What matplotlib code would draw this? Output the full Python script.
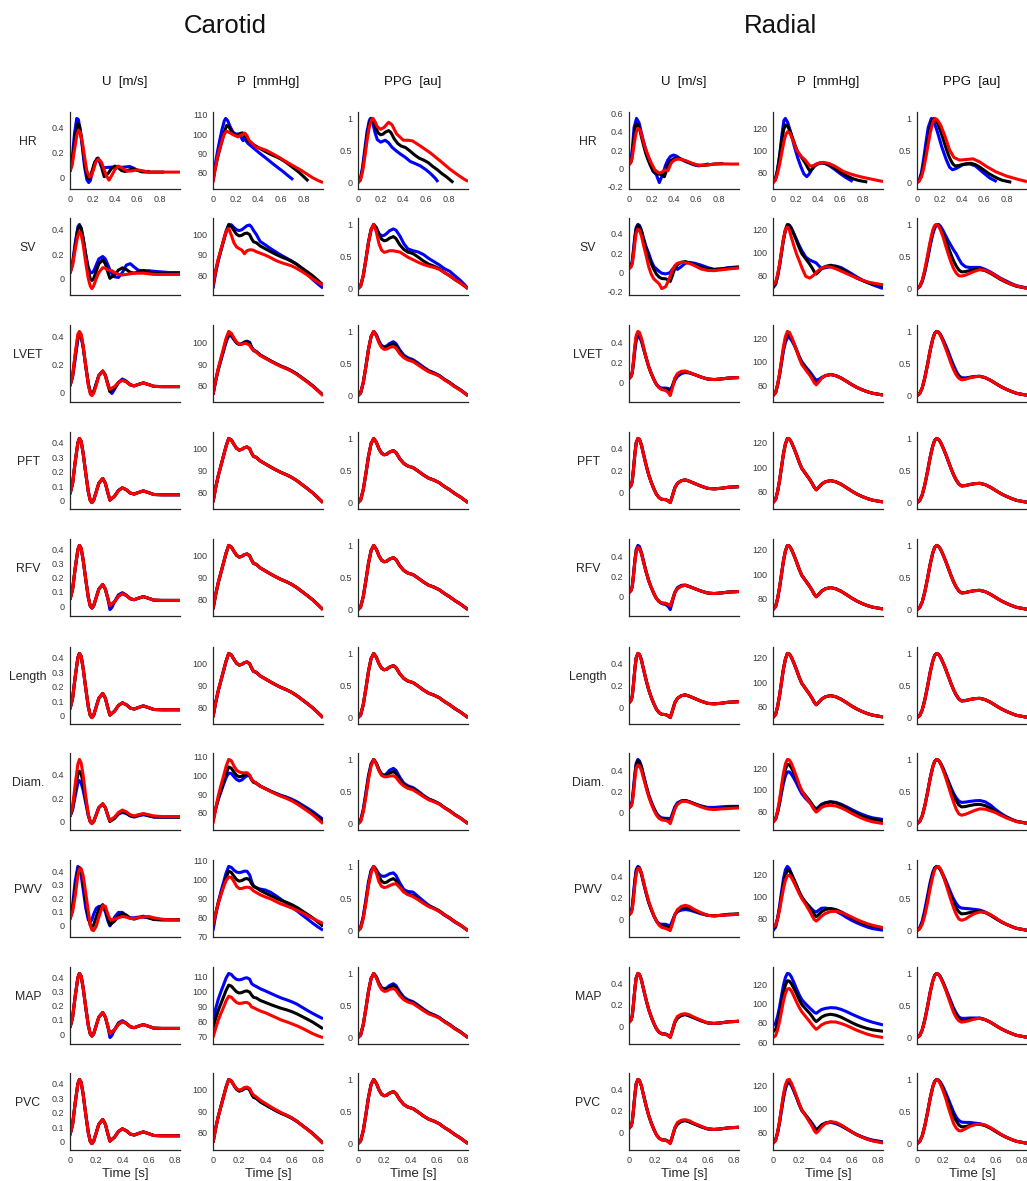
import matplotlib
matplotlib.use('Agg')
import matplotlib.pyplot as plt
from matplotlib.ticker import MultipleLocator, FuncFormatter

plt.rcParams['font.family'] = ['Liberation Sans', 'DejaVu Sans']

# ---------------- labels ----------------
sites = ['Carotid', 'Radial']
col_titles = ['U  [m/s]', 'P  [mmHg]', 'PPG  [au]']
rows = ['HR', 'SV', 'LVET', 'PFT', 'RFV', 'Length', 'Diam.', 'PWV', 'MAP', 'PVC']
x_ticks = [0, 0.2, 0.4, 0.6, 0.8]

# ---------------- carotid U ----------------
t_cu = [0, .02, .04, .06, .072, .085, .10, .12, .14, .155, .167, .18, .20, .22, .25, .27, .29, .305, .32, .34,
        .37, .40, .43, .46, .49, .52, .56, .60, .64, .70, .76, .84]
cu_base = [.045, .12, .27, .40, .43, .41, .33, .19, .06, .0, -.014, .0, .06, .12, .153, .12, .05, .003, .015, .03,
           .07, .088, .075, .052, .045, .055, .067, .055, .042, .04, .04, .04]
cu_sv_blue = [.045, .13, .29, .42, .44, .41, .33, .2, .09, .05, .048, .06, .11, .16, .18, .16, .11, .07, .04, .015,
              .01, .05, .11, .122, .095, .07, .062, .065, .06, .055, .05, .05]
cu_sv_red = [.045, .11, .24, .35, .38, .36, .28, .13, .0, -.06, -.08, -.06, .0, .05, .09, .085, .07, .068, .065, .05,
             .035, .03, .035, .04, .045, .045, .045, .04, .035, .035, .035, .035]
cu_lvet_blue = [.045, .11, .24, .38, .41, .40, .33, .19, .06, .0, -.014, .0, .06, .12, .153, .125, .06, .01, -.01, .02,
                .07, .095, .08, .055, .045, .055, .067, .055, .042, .04, .04, .04]
cu_lvet_red = [.045, .12, .28, .42, .44, .42, .34, .19, .05, -.015, -.025, -.01, .05, .12, .153, .12, .05, .02, .03, .04,
               .07, .085, .075, .052, .045, .055, .067, .055, .042, .04, .04, .04]
cu_rfv_blue = [.045, .12, .27, .40, .43, .41, .33, .19, .06, .0, -.014, .0, .06, .12, .153, .12, .05, -.025, -.01, .03,
               .08, .095, .078, .052, .045, .055, .067, .055, .042, .04, .04, .04]
cu_diam_blue = [.045, .1, .22, .33, .35, .33, .27, .16, .05, .0, -.01, .0, .06, .12, .15, .12, .05, .005, .015, .03,
                .065, .08, .07, .05, .04, .05, .06, .05, .04, .04, .04, .04]
cu_diam_red = [.045, .13, .32, .49, .53, .50, .40, .22, .06, .0, -.015, .0, .06, .12, .153, .12, .05, .01, .025, .04,
               .08, .1, .085, .06, .05, .06, .07, .06, .05, .045, .045, .045]
cu_pwv_blue = [.045, .15, .33, .437, .42, .37, .27, .13, .04, .025, .04, .08, .125, .14, .14, .1, .03, -.005, .02, .06,
               .095, .095, .07, .055, .055, .06, .06, .055, .045, .04, .04, .04]
cu_pwv_red = [.045, .1, .22, .37, .42, .42, .37, .24, .1, .0, -.035, -.04, -.01, .06, .145, .14, .08, .045, .04, .045,
              .055, .065, .06, .05, .05, .055, .062, .065, .055, .045, .04, .04]
cu_hr_blue_t = [0, .02, .04, .06, .075, .09, .11, .13, .15, .166, .18, .20, .22, .24, .26, .28, .30, .34, .38, .42,
                .46, .50, .53, .56, .60, .65, .71]
cu_hr_blue = [.045, .15, .35, .47, .46, .38, .24, .08, -.02, -.044, -.03, .04, .11, .15, .13, .085, .075, .078, .08, .08,
              .078, .082, .085, .075, .055, .045, .045]
cu_hr_red_t = [0, .02, .04, .06, .075, .09, .11, .13, .15, .175, .19, .21, .23, .254, .28, .30, .32, .347, .37, .40,
               .43, .47, .51, .55, .60, .65, .70, .80, .90, .98]
cu_hr_red = [.045, .1, .22, .33, .375, .36, .28, .16, .05, .0, .01, .06, .12, .145, .12, .07, .02, -.025, .01, .06,
             .088, .07, .047, .05, .058, .05, .04, .04, .04, .04]

# ---------------- carotid P ----------------
t_cp = [0, .02, .04, .06, .08, .10, .12, .14, .16, .18, .20, .22, .24, .26, .28, .295, .31, .33, .36, .40,
        .44, .48, .52, .56, .60, .64, .68, .72, .76, .80, .84]
cp_base = [75.5, 82, 87.5, 92, 96.5, 101, 104.5, 103.8, 101.8, 100, 99.2, 99.5, 100.3, 100.6, 99.8, 97.8, 96.3, 95.9,
           94.3, 92.9, 91.5, 90.2, 89, 88, 86.8, 85.3, 83.5, 81.7, 79.8, 77.6, 75.3]
cp_sv_blue = [73.5, 81, 87, 92, 97, 101.5, 104.8, 104.6, 103.3, 102.2, 101.8, 102.2, 103.2, 104.2, 104.5, 103.5, 101.8,
              100, 96.5, 94.8, 93, 91.4, 89.8, 88.4, 87, 85.4, 83.2, 80.6, 78, 75.8, 73.7]
cp_sv_red = [75, 82, 88, 92.5, 97, 101.5, 102.8, 99.5, 95.8, 93.8, 93, 92.3, 90.5, 92, 92.4, 92.4, 92.2, 91.5, 90.8,
             89.8, 88.6, 87.2, 86.2, 85.4, 84.6, 83.3, 81.8, 80.1, 78.3, 76.7, 75.2]
cp_lvet_blue = [75.5, 82, 87.3, 91.7, 96, 100.3, 103.4, 103.2, 101.5, 100, 99.3, 99.6, 100.3, 100.8, 100.3, 98, 96.8,
                95.9, 94.3, 92.9, 91.5, 90.2, 89, 88, 86.8, 85.3, 83.5, 81.7, 79.8, 77.6, 75.3]
cp_lvet_red = [75.5, 82.3, 88, 92.7, 97.5, 102.2, 105.4, 104.5, 102.3, 100.4, 99.3, 99.3, 99.8, 99.6, 98.8, 97.4, 96.5,
               95.6, 94, 92.7, 91.3, 90, 88.8, 87.8, 86.6, 85.1, 83.3, 81.5, 79.6, 77.4, 75.1]
cp_diam_blue = [76.5, 82, 87, 91, 95, 98.8, 101.2, 101, 99.3, 97.8, 97, 97.5, 98.8, 99.8, 99.7, 97.5, 96.3, 95.7, 94.2,
                92.9, 91.6, 90.4, 89.3, 88.4, 87.3, 85.9, 84.2, 82.5, 80.7, 78.6, 76.5]
cp_diam_red = [74.2, 82, 89, 94.5, 99.5, 104.8, 108.5, 107.8, 105, 102.8, 101.8, 101.4, 101.3, 101.4, 100.2, 97.8, 96.8,
               95.9, 94.3, 92.8, 91.4, 90, 88.8, 87.7, 86.4, 84.8, 82.9, 81, 79, 76.6, 74.2]
cp_pwv_blue = [73, 81, 88, 93.5, 98.5, 103.5, 107, 106.5, 105, 104, 103.7, 104, 104.5, 104.4, 102.5, 99, 96.6, 95.6, 95,
               94.5, 93.3, 91.5, 89.5, 87.5, 85.5, 83.5, 81.3, 79.2, 77, 75, 73.2]
cp_pwv_red = [76, 82, 87.5, 92, 96, 99.5, 101.4, 101.2, 99, 96.5, 95.3, 95.3, 95.8, 96, 95.8, 95, 94, 93.2, 92, 90.8,
              89.8, 88.4, 87.1, 86.1, 85, 83.7, 82.5, 81, 79.5, 78.1, 76.8]
cp_map_blue = [81.5, 88.5, 95, 100, 104.5, 109.2, 112.3, 111.6, 109.6, 108.3, 108, 108.3, 109.1, 109.4, 108.4, 105.5,
               104.5, 103.6, 102.1, 100.6, 99, 97.4, 95.9, 94.7, 93.4, 91.8, 89.7, 87.6, 85.6, 83.8, 82.0]
cp_map_red = [69.5, 75.5, 81, 85.5, 89.5, 94, 97, 96.4, 94.5, 92.8, 92.2, 92.4, 92.8, 92.9, 91.8, 89.8, 89.4, 88.5,
              87.2, 86, 84.4, 82.8, 81.2, 80, 78.7, 77.3, 75.7, 73.9, 72.1, 70.6, 69.4]
cp_pvc_red = [75.5, 82, 87.5, 92, 96.5, 101, 104.5, 103.8, 101.8, 100.2, 99.6, 100, 100.8, 101, 100.3, 98.5, 97.3, 96.5,
              95, 93.5, 92, 90.6, 89.3, 88.2, 87, 85.4, 83.5, 81.6, 79.6, 77.4, 75.1]
cp_hr_blue_t = [0, .02, .04, .06, .08, .10, .112, .13, .15, .176, .20, .235, .255, .265, .275, .29, .31, .35, .41, .47,
                .53, .58, .62, .66, .706]
cp_hr_blue = [76, 84, 91, 97, 102.5, 107, 108.2, 107, 104, 101, 100, 100, 97.5, 96.5, 98.5, 96.5, 95, 93, 90, 87.2,
              84.3, 82, 80.2, 78.2, 76]
cp_hr_red_t = [0, .02, .04, .06, .08, .10, .118, .14, .176, .22, .25, .28, .30, .32, .35, .38, .42, .47, .53, .59,
               .65, .71, .765, .82, .88, .93, .97]
cp_hr_red = [74.5, 82, 88, 92.5, 96.5, 100, 101.5, 101, 99.7, 98.5, 99.5, 100.5, 99, 96.5, 94.8, 93.1, 92.5, 91.4, 89.5,
             87.5, 85.3, 83.2, 81.4, 79.3, 77, 75.5, 74.5]

# ---------------- carotid PPG ----------------
t_cg = [0, .02, .04, .06, .08, .10, .12, .14, .16, .18, .20, .22, .24, .27, .29, .32, .35, .38, .42, .46,
        .50, .54, .58, .62, .66, .70, .74, .78, .81, .84]
cg_base = [0, .04, .2, .45, .72, .92, 1.0, .94, .84, .77, .745, .755, .785, .81, .78, .68, .61, .57, .545, .49,
           .43, .38, .35, .31, .25, .2, .14, .09, .045, 0]
cg_sv_blue = [0, .04, .2, .45, .72, .92, 1.0, .95, .86, .82, .83, .86, .9, .93, .91, .82, .7, .62, .59, .57,
              .53, .47, .42, .37, .31, .27, .2, .13, .07, 0]
cg_sv_red = [0, .04, .2, .45, .72, .92, 1.0, .88, .7, .6, .565, .575, .59, .59, .58, .57, .53, .49, .45, .41,
             .375, .35, .33, .3, .25, .2, .14, .09, .045, 0]
cg_lvet_blue = [0, .04, .2, .45, .72, .92, 1.0, .95, .85, .78, .76, .775, .81, .84, .81, .71, .63, .59, .56, .505,
                .445, .39, .355, .315, .255, .205, .145, .095, .047, 0]
cg_lvet_red = [0, .04, .2, .45, .72, .92, 1.0, .93, .82, .75, .72, .725, .75, .765, .74, .65, .59, .555, .53, .475,
               .42, .37, .34, .305, .245, .195, .135, .088, .044, 0]
cg_diam_blue = [0, .05, .22, .48, .75, .93, 1.0, .94, .84, .77, .755, .78, .83, .86, .83, .72, .63, .59, .56, .505,
                .44, .385, .35, .31, .25, .2, .14, .09, .045, 0]
cg_diam_red = [0, .03, .18, .42, .69, .9, 1.0, .93, .82, .75, .73, .73, .74, .745, .72, .64, .585, .55, .525, .475,
               .42, .37, .34, .305, .245, .195, .135, .088, .044, 0]
cg_pwv_blue = [0, .05, .22, .48, .76, .94, 1.0, .95, .88, .85, .845, .86, .885, .9, .86, .74, .64, .61, .6, .53,
               .46, .395, .35, .3, .24, .19, .13, .085, .042, 0]
cg_pwv_red = [0, .035, .19, .43, .7, .9, 1.0, .9, .76, .69, .67, .68, .7, .725, .73, .67, .6, .56, .53, .48,
              .425, .375, .34, .3, .245, .195, .135, .088, .044, 0]
cg_hr_blue_t = [0, .02, .04, .06, .08, .10, .11, .13, .15, .17, .20, .24, .27, .30, .34, .37, .42, .46, .50, .55,
                .60, .64, .68, .706]
cg_hr_blue = [0, .05, .24, .52, .8, .97, 1.0, .93, .78, .67, .63, .66, .62, .55, .49, .45, .39, .33, .3, .26,
              .2, .14, .07, .01]
cg_hr_red_t = [0, .02, .04, .06, .08, .10, .12, .132, .15, .17, .20, .23, .27, .30, .34, .40, .44, .48, .55, .64,
               .73, .81, .88, .93, .97]
cg_hr_red = [0, .035, .17, .4, .66, .87, .98, 1.0, .95, .87, .83, .86, .94, .9, .76, .66, .66, .65, .57, .46,
             .33, .21, .12, .06, .02]

# ---------------- radial U ----------------
t_ru = [0, .015, .025, .035, .045, .055, .068, .08, .095, .11, .13, .15, .17, .19, .21, .23, .25, .28, .30, .315,
        .33, .35, .37, .40, .43, .46, .50, .55, .60, .65, .70, .76, .84]
ru_base = [.04, .06, .1, .22, .35, .45, .49, .48, .43, .35, .25, .16, .09, .03, -.02, -.05, -.065, -.068, -.08, -.095,
           -.04, .04, .08, .105, .112, .1, .08, .055, .035, .03, .035, .045, .05]
ru_sv_blue = [.04, .07, .12, .25, .38, .47, .5, .49, .44, .36, .27, .2, .12, .06, .035, .01, -.01, -.017, -.01, .0,
              .03, .06, .03, .06, .095, .104, .095, .075, .05, .03, .035, .048, .058]
ru_sv_red = [.04, .055, .09, .19, .31, .41, .45, .44, .38, .29, .18, .06, -.02, -.07, -.095, -.12, -.17, -.15, -.09,
             -.04, .02, .07, .095, .104, .1, .094, .07, .035, .02, .017, .025, .035, .045]
ru_lvet_blue = [.04, .06, .1, .2, .32, .42, .46, .455, .41, .34, .25, .16, .09, .03, -.02, -.045, -.055, -.055, -.06,
                -.07, -.04, .02, .06, .09, .1, .095, .08, .055, .035, .03, .035, .045, .05]
ru_lvet_red = [.04, .06, .1, .23, .37, .47, .51, .5, .44, .36, .25, .16, .09, .03, -.02, -.05, -.07, -.08, -.1, -.13,
               -.06, .04, .09, .112, .115, .1, .08, .055, .035, .03, .035, .045, .05]
ru_diam_blue = [.04, .06, .11, .24, .37, .47, .505, .49, .44, .36, .26, .17, .1, .04, -.01, -.04, -.055, -.06, -.06,
                -.07, -.02, .05, .09, .108, .11, .1, .08, .06, .045, .045, .05, .055, .055]
ru_diam_red = [.04, .055, .09, .2, .32, .42, .45, .44, .4, .33, .24, .15, .08, .02, -.03, -.06, -.075, -.08, -.09,
               -.11, -.05, .03, .075, .1, .105, .095, .075, .05, .03, .025, .03, .035, .04]
ru_pwv_blue = [.04, .07, .12, .25, .38, .47, .5, .49, .43, .35, .25, .16, .09, .03, -.02, -.045, -.05, -.05, -.06,
               -.07, -.02, .04, .07, .085, .09, .085, .07, .05, .035, .03, .035, .04, .045]
ru_pwv_red = [.04, .055, .09, .2, .33, .43, .48, .48, .44, .36, .26, .17, .1, .03, -.02, -.06, -.08, -.09, -.1, -.11,
              -.05, .04, .09, .12, .13, .12, .09, .06, .035, .03, .035, .04, .045]
ru_map_red = [.04, .06, .1, .22, .35, .45, .49, .48, .43, .35, .25, .16, .09, .03, -.02, -.05, -.065, -.07, -.085, -.1,
              -.04, .05, .095, .115, .12, .11, .085, .06, .035, .03, .035, .045, .05]
ru_hr_blue_t = [0, .015, .03, .045, .067, .09, .126, .16, .185, .214, .243, .27, .30, .325, .346, .37, .396, .42, .45,
                .5, .54, .58, .62, .67, .71]
ru_hr_blue = [.04, .07, .22, .45, .55, .5, .31, .16, .09, -.036, -.07, -.16, -.07, .03, .09, .13, .145, .135, .11,
              .075, .055, .035, .025, .035, .047]
ru_hr_red_t = [0, .015, .03, .05, .065, .082, .1, .14, .185, .23, .27, .30, .317, .346, .375, .40, .43, .46, .5, .56,
               .62, .7, .77, .85, .92, .98]
ru_hr_red = [.04, .06, .13, .3, .4, .44, .42, .24, .09, -.02, -.055, -.04, -.02, -.03, .055, .085, .1, .097, .085, .055,
             .03, .035, .047, .047, .045, .045]

# ---------------- radial P ----------------
t_rp = [0, .02, .035, .05, .065, .08, .095, .11, .125, .14, .16, .18, .20, .22, .25, .28, .30, .315, .33, .35,
        .37, .40, .44, .48, .52, .56, .60, .64, .68, .72, .76, .84]
rp_base = [71, 73.5, 80, 89, 100, 111, 119, 123.5, 123, 120.5, 115.5, 110, 104, 99, 94.5, 90, 86.5, 83.5, 81.5, 83.5,
           86, 88, 89, 88, 86, 83.3, 80.5, 78, 76, 74.3, 73, 71.5]
rp_sv_blue = [69.5, 72.5, 79, 88.5, 100, 111, 119.5, 124, 123.5, 121, 116, 111, 106, 101.5, 96, 93.5, 92.5, 91.8, 91,
              88.5, 86.3, 86.8, 87.8, 88.3, 87, 84.5, 81.8, 79, 76.5, 74.2, 72.3, 69.0]
rp_sv_red = [72, 74.5, 81, 90, 101, 112, 119.5, 121.8, 119, 113, 105.5, 98.5, 93, 87, 79.5, 78, 79.5, 81, 82.8, 84.8,
             86.5, 87.8, 87.5, 86, 84, 82, 80, 78, 76.3, 74.8, 73.8, 72.3]
rp_lvet_blue = [71, 73.5, 80, 88.5, 99, 109.5, 116.5, 120.5, 120.5, 118.5, 114.5, 109.5, 104.5, 100, 95.5, 91.5, 88.5,
                86, 84.2, 84.8, 86.3, 88, 89, 88, 86, 83.3, 80.5, 78, 76, 74.3, 73, 71.5]
rp_lvet_red = [71, 73.5, 80.5, 90, 101.5, 113, 121.5, 125.8, 125, 121.5, 115.5, 109.5, 103, 97.5, 93, 88.5, 85, 82,
               80.2, 82.8, 85.8, 88, 89, 88, 86, 83.3, 80.5, 78, 76, 74.3, 73, 71.5]
rp_diam_blue = [70.5, 73, 79, 87, 97, 106, 113, 116.5, 116.5, 114.5, 110.5, 106, 101, 96.5, 92, 88.3, 86, 84, 82.5,
                84.5, 86.8, 88.3, 89, 88.5, 86.8, 84.5, 82, 79.6, 77.5, 75.7, 74.3, 72.8]
rp_diam_red = [70, 73, 80.5, 91, 103.5, 115.5, 124, 128, 127.5, 124.5, 118.5, 112, 105, 99, 93.5, 88.5, 84.5, 81.5,
               79.5, 81.5, 83.8, 85.3, 85.8, 85.2, 83.5, 81.2, 78.5, 76, 73.8, 72, 70.6, 69.0]
rp_pwv_blue = [69, 72, 80, 91, 104, 116, 124, 127, 125, 120.5, 114, 109, 104, 99.5, 94, 90.5, 88, 86.5, 85.7, 87.5,
               89.2, 89.4, 88.5, 86.5, 84, 81, 78.3, 76, 74, 72.2, 70.8, 69.3]
rp_pwv_red = [72, 74, 79.5, 87.5, 97.5, 107, 114.5, 118.5, 119, 117, 112.5, 107.5, 102.5, 98, 92.5, 86.5, 82, 79,
              77.6, 79.5, 82, 84.5, 86.2, 86.5, 85.5, 83.5, 81.3, 79, 77, 75.2, 73.8, 71.6]
rp_map_blue = [77.3, 80, 87, 96.5, 108, 119, 127, 131, 130.5, 127.5, 121.5, 115, 109, 104, 99.5, 95.5, 93, 91, 90, 92,
               93.8, 95, 95.8, 95.5, 94, 91.8, 89.2, 86.8, 84.5, 82.5, 80.8, 78]
rp_map_red = [65, 67, 73, 81.5, 92, 102.5, 110.5, 115, 115.5, 113, 107.5, 101.5, 96, 91.5, 86.5, 81.5, 78, 75.5, 73.5,
              75.5, 78, 80, 81.2, 81, 79.5, 77.5, 75, 72.5, 70.5, 68.5, 67, 65]
rp_pvc_blue = [71, 73.5, 79.5, 88, 98.5, 109, 117, 121.5, 122, 120, 115, 109.5, 103.5, 98.5, 94.5, 90.5, 87.5, 85,
               82.5, 84, 86.3, 87.8, 88.5, 87.5, 85.5, 83, 80.5, 78.2, 76.3, 74.7, 73.5, 72]
rp_pvc_red = [70.5, 73, 80, 89.5, 101, 112.5, 120.5, 124.5, 125, 122, 116.5, 110.5, 104.5, 99, 94, 88.5, 85, 81.5,
              79.5, 81.5, 84.5, 87.5, 89, 88.5, 86.3, 83.5, 80.5, 78, 76, 74.2, 72.8, 71.0]
rp_hr_blue_t = [0, .02, .04, .06, .08, .097, .11, .13, .16, .19, .22, .25, .275, .30, .32, .35, .38, .42, .46, .5,
                .55, .6, .65, .71]
rp_hr_blue = [71, 73.5, 82, 96, 115, 127.5, 129.4, 126, 116, 104, 93.5, 85, 79, 76.4, 78.5, 83.5, 87.5, 89, 88.5, 86.5,
              83, 79, 75.5, 72]
rp_hr_red_t = [0, .02, .04, .06, .08, .10, .115, .13, .15, .18, .21, .25, .287, .33, .36, .40, .45, .5, .55, .63,
               .7, .79, .87, .93, .98]
rp_hr_red = [71, 73, 79, 88, 99, 109.5, 115, 117.3, 116, 109, 100.6, 95, 91.5, 86, 86.5, 88.5, 89.4, 88.3, 86, 81,
             78.5, 76, 74.3, 73, 72]

# ---------------- radial PPG ----------------
t_rg = [0, .02, .04, .06, .08, .10, .12, .135, .15, .165, .18, .20, .22, .24, .26, .28, .30, .32, .34, .37,
        .40, .44, .48, .52, .56, .60, .64, .68, .72, .76, .84]
rg_base = [0, .03, .12, .28, .48, .7, .88, .97, 1.0, .985, .94, .85, .75, .64, .53, .43, .35, .29, .26, .265,
           .28, .295, .3, .28, .24, .19, .14, .1, .065, .035, .005]
rg_sv_blue = [0, .03, .11, .26, .45, .66, .84, .94, .99, 1.0, .97, .9, .82, .74, .67, .6, .54, .46, .39, .34,
              .33, .33, .33, .3, .26, .21, .16, .12, .08, .045, .01]
rg_sv_red = [0, .03, .13, .3, .51, .73, .91, .985, 1.0, .97, .91, .8, .66, .53, .41, .31, .24, .2, .195, .21,
             .235, .27, .295, .285, .25, .2, .15, .105, .07, .04, .005]
rg_lvet_blue = [0, .03, .12, .28, .48, .7, .88, .97, 1.0, .99, .95, .87, .78, .68, .57, .47, .38, .31, .28, .275,
                .285, .298, .3, .28, .24, .19, .14, .1, .065, .035, .005]
rg_lvet_red = [0, .03, .12, .28, .48, .7, .88, .97, 1.0, .985, .935, .84, .73, .62, .5, .4, .32, .27, .245, .255,
               .275, .293, .3, .28, .24, .19, .14, .1, .065, .035, .005]
rg_diam_blue = [0, .03, .12, .28, .48, .7, .88, .97, 1.0, .985, .94, .86, .76, .66, .56, .47, .4, .35, .33, .335,
                .345, .355, .36, .34, .29, .22, .16, .11, .07, .035, .005]
rg_diam_red = [0, .03, .12, .28, .48, .7, .88, .97, 1.0, .985, .93, .83, .71, .58, .45, .33, .22, .15, .13, .145,
               .17, .205, .23, .225, .2, .17, .13, .09, .06, .03, .005]
rg_pwv_blue = [0, .04, .15, .33, .54, .75, .91, .98, 1.0, .985, .95, .87, .78, .68, .58, .49, .42, .37, .35, .345,
               .34, .33, .32, .29, .245, .19, .14, .1, .065, .035, .005]
rg_pwv_red = [0, .025, .1, .24, .43, .65, .84, .95, .99, 1.0, .96, .86, .73, .6, .47, .35, .25, .18, .16, .18,
              .22, .265, .29, .285, .25, .2, .145, .1, .065, .035, .005]
rg_map_blue = [0, .03, .12, .28, .48, .7, .88, .97, 1.0, .985, .945, .86, .76, .66, .56, .46, .38, .32, .3, .3,
               .305, .305, .305, .28, .24, .19, .14, .1, .065, .035, .005]
rg_map_red = [0, .03, .12, .28, .48, .7, .88, .97, 1.0, .985, .935, .84, .74, .62, .5, .39, .31, .26, .24, .25,
              .265, .29, .3, .28, .24, .19, .14, .1, .065, .035, .005]
rg_pvc_blue = [0, .03, .12, .28, .48, .7, .88, .97, 1.0, .99, .955, .88, .79, .69, .59, .49, .41, .36, .335, .33,
               .33, .32, .31, .285, .245, .195, .145, .1, .065, .035, .005]
rg_pvc_red = [0, .03, .12, .28, .48, .7, .88, .97, 1.0, .98, .92, .82, .7, .56, .43, .31, .24, .2, .2, .23,
              .265, .295, .305, .29, .25, .2, .145, .1, .065, .035, .005]
rg_hr_blue_t = [0, .02, .04, .06, .08, .10, .128, .15, .18, .22, .26, .29, .316, .35, .41, .47, .52, .56, .6, .65, .71]
rg_hr_blue = [0, .04, .16, .38, .63, .86, 1.0, .95, .8, .56, .36, .24, .2, .22, .28, .29, .26, .2, .14, .07, .015]
rg_hr_red_t = [0, .02, .04, .06, .08, .10, .12, .14, .158, .18, .21, .25, .29, .33, .38, .44, .5, .56, .62, .7,
               .8, .9, .98]
rg_hr_red = [0, .025, .09, .22, .4, .6, .79, .93, 1.0, .98, .9, .72, .51, .39, .35, .36, .37, .32, .25, .17,
             .1, .05, .015]

# y-tick steps per column (rows in order)
cu_steps = [.2, .2, .2, .1, .1, .1, .2, .1, .1, .1]
cp_steps = [10] * 10
cg_steps = [.5] * 10
ru_steps = [.2] * 10
rp_steps = [20] * 10
rg_steps = [.5] * 10


# ---------------- build lookup tables ----------------
def cell(t, base, blue=None, red=None):
    return (t, blue if blue is not None else base, t, base, t, red if red is not None else base)


def hr_cell(tb, b, t, base, tr, r):
    return (tb, b, t, base, tr, r)


columns = [
    {  # carotid U
        'HR': hr_cell(cu_hr_blue_t, cu_hr_blue, t_cu, cu_base, cu_hr_red_t, cu_hr_red),
        'SV': cell(t_cu, cu_base, cu_sv_blue, cu_sv_red),
        'LVET': cell(t_cu, cu_base, cu_lvet_blue, cu_lvet_red),
        'PFT': cell(t_cu, cu_base),
        'RFV': cell(t_cu, cu_base, cu_rfv_blue),
        'Length': cell(t_cu, cu_base),
        'Diam.': cell(t_cu, cu_base, cu_diam_blue, cu_diam_red),
        'PWV': cell(t_cu, cu_base, cu_pwv_blue, cu_pwv_red),
        'MAP': cell(t_cu, cu_base, cu_rfv_blue),
        'PVC': cell(t_cu, cu_base),
    },
    {  # carotid P
        'HR': hr_cell(cp_hr_blue_t, cp_hr_blue, t_cp, cp_base, cp_hr_red_t, cp_hr_red),
        'SV': cell(t_cp, cp_base, cp_sv_blue, cp_sv_red),
        'LVET': cell(t_cp, cp_base, cp_lvet_blue, cp_lvet_red),
        'PFT': cell(t_cp, cp_base),
        'RFV': cell(t_cp, cp_base),
        'Length': cell(t_cp, cp_base),
        'Diam.': cell(t_cp, cp_base, cp_diam_blue, cp_diam_red),
        'PWV': cell(t_cp, cp_base, cp_pwv_blue, cp_pwv_red),
        'MAP': cell(t_cp, cp_base, cp_map_blue, cp_map_red),
        'PVC': cell(t_cp, cp_base, None, cp_pvc_red),
    },
    {  # carotid PPG
        'HR': hr_cell(cg_hr_blue_t, cg_hr_blue, t_cg, cg_base, cg_hr_red_t, cg_hr_red),
        'SV': cell(t_cg, cg_base, cg_sv_blue, cg_sv_red),
        'LVET': cell(t_cg, cg_base, cg_lvet_blue, cg_lvet_red),
        'PFT': cell(t_cg, cg_base),
        'RFV': cell(t_cg, cg_base),
        'Length': cell(t_cg, cg_base),
        'Diam.': cell(t_cg, cg_base, cg_diam_blue, cg_diam_red),
        'PWV': cell(t_cg, cg_base, cg_pwv_blue, cg_pwv_red),
        'MAP': cell(t_cg, cg_base, cg_lvet_blue, cg_lvet_red),
        'PVC': cell(t_cg, cg_base),
    },
    {  # radial U
        'HR': hr_cell(ru_hr_blue_t, ru_hr_blue, t_ru, ru_base, ru_hr_red_t, ru_hr_red),
        'SV': cell(t_ru, ru_base, ru_sv_blue, ru_sv_red),
        'LVET': cell(t_ru, ru_base, ru_lvet_blue, ru_lvet_red),
        'PFT': cell(t_ru, ru_base),
        'RFV': cell(t_ru, ru_base, ru_lvet_red, None),
        'Length': cell(t_ru, ru_base),
        'Diam.': cell(t_ru, ru_base, ru_diam_blue, ru_diam_red),
        'PWV': cell(t_ru, ru_base, ru_pwv_blue, ru_pwv_red),
        'MAP': cell(t_ru, ru_base, None, ru_map_red),
        'PVC': cell(t_ru, ru_base, None, ru_map_red),
    },
    {  # radial P
        'HR': hr_cell(rp_hr_blue_t, rp_hr_blue, t_rp, rp_base, rp_hr_red_t, rp_hr_red),
        'SV': cell(t_rp, rp_base, rp_sv_blue, rp_sv_red),
        'LVET': cell(t_rp, rp_base, rp_lvet_blue, rp_lvet_red),
        'PFT': cell(t_rp, rp_base),
        'RFV': cell(t_rp, rp_base),
        'Length': cell(t_rp, rp_base),
        'Diam.': cell(t_rp, rp_base, rp_diam_blue, rp_diam_red),
        'PWV': cell(t_rp, rp_base, rp_pwv_blue, rp_pwv_red),
        'MAP': cell(t_rp, rp_base, rp_map_blue, rp_map_red),
        'PVC': cell(t_rp, rp_base, rp_pvc_blue, rp_pvc_red),
    },
    {  # radial PPG
        'HR': hr_cell(rg_hr_blue_t, rg_hr_blue, t_rg, rg_base, rg_hr_red_t, rg_hr_red),
        'SV': cell(t_rg, rg_base, rg_sv_blue, rg_sv_red),
        'LVET': cell(t_rg, rg_base, rg_lvet_blue, rg_lvet_red),
        'PFT': cell(t_rg, rg_base),
        'RFV': cell(t_rg, rg_base),
        'Length': cell(t_rg, rg_base),
        'Diam.': cell(t_rg, rg_base, rg_diam_blue, rg_diam_red),
        'PWV': cell(t_rg, rg_base, rg_pwv_blue, rg_pwv_red),
        'MAP': cell(t_rg, rg_base, rg_map_blue, rg_map_red),
        'PVC': cell(t_rg, rg_base, rg_pvc_blue, rg_pvc_red),
    },
]
steps = [cu_steps, cp_steps, cg_steps, ru_steps, rp_steps, rg_steps]

# ---------------- figure layout ----------------
W, H = 1027, 1181
fig = plt.figure(figsize=(W / 100, H / 100), dpi=100)
lefts = [70, 213, 358, 629, 773, 917]
tops = [112, 218, 325, 432, 539, 647, 753, 860, 967, 1073]
aw, ah = 110, 77
tick_color = '#3a3a3a'
fmt = FuncFormatter(lambda v, p: ('%g' % round(v, 6)))

for ci, col in enumerate(columns):
    for ri, row in enumerate(rows):
        tb, b, tk, k, tr, r = col[row]
        ax = fig.add_axes([lefts[ci] / W, 1 - (tops[ri] + ah) / H, aw / W, ah / H])
        for tt, vv, cc in [(tb, b, '#0000ff'), (tk, k, '#000000'), (tr, r, '#ff0000')]:
            if len(tt) != len(vv):
                raise ValueError('length mismatch col %d row %s: %d vs %d' % (ci, row, len(tt), len(vv)))
            ax.plot(tt, vv, color=cc, lw=2.2, solid_capstyle='butt', solid_joinstyle='round')
        allv = list(b) + list(k) + list(r)
        lo, hi = min(allv), max(allv)
        pad = 0.1 * (hi - lo)
        ax.set_ylim(lo - pad, hi + pad)
        ax.set_xlim(0, max(max(tb), max(tk), max(tr)))
        ax.yaxis.set_major_locator(MultipleLocator(steps[ci][ri]))
        ax.yaxis.set_major_formatter(fmt)
        ax.set_xticks(x_ticks)
        ax.xaxis.set_major_formatter(fmt)
        for s in ['top', 'right']:
            ax.spines[s].set_visible(False)
        for s in ['left', 'bottom']:
            ax.spines[s].set_color('#262626')
            ax.spines[s].set_linewidth(0.9)
        ax.tick_params(axis='both', length=0, labelsize=6.5, colors=tick_color, pad=4)
        if row not in ('HR', 'PVC'):
            ax.set_xticklabels([])
        if row == 'PVC':
            ax.set_xlabel('Time [s]', fontsize=9.5, color='#262626', labelpad=2.5)
        ax.patch.set_alpha(0)

# row labels
for side, xc in [(0, 28), (1, 588)]:
    for ri, row in enumerate(rows):
        fig.text(xc / W, 1 - (tops[ri] + 30) / H, row, ha='center', va='center', fontsize=8.8, color='#262626')

# column headers
for ci in range(6):
    xc = (lefts[ci] + aw / 2) / W
    fig.text(xc, 1 - 82 / H, col_titles[ci % 3], ha='center', va='center', fontsize=9.5, color='#111111')

# site titles
fig.text(225 / W, 1 - 26 / H, sites[0], ha='center', va='center', fontsize=18.5, color='#111111')
fig.text(780 / W, 1 - 26 / H, sites[1], ha='center', va='center', fontsize=18.5, color='#111111')

fig.savefig('out.png', dpi=100)
